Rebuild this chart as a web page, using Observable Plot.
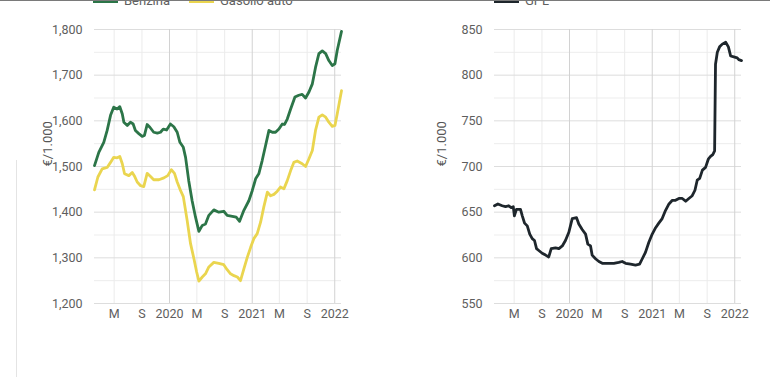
<!DOCTYPE html>
<html>
<head>
<meta charset="utf-8">
<script src="https://cdn.jsdelivr.net/npm/d3@7"></script>
<script src="https://cdn.jsdelivr.net/npm/@observablehq/plot@0.6"></script>
<style>
  html, body { margin: 0; padding: 0; background: #fff; width: 770px; height: 384px; overflow: hidden; }
  body { position: relative; font-family: Roboto, "Noto Sans", sans-serif; }
  .topline { position: absolute; left: 0; top: 0; width: 770px; height: 1px; background: #7a7a7a; z-index: 5; }
  .sideline { position: absolute; left: 16px; top: 160px; width: 1px; height: 217px; background: #e4e4e4; }
  .chart { position: absolute; top: 0; }
  .legend { position: absolute; top: -6px; font-size: 13px; color: #5f5f5f; white-space: nowrap; line-height: 14px; }
  .legend span.item { position: absolute; top: 0; }
  .legend span.sw { position: absolute; top: -1px; width: 25px; height: 10px; }
</style>
</head>
<body>
<div class="topline"></div>
<div class="sideline"></div>
<div id="left" class="chart" style="left:0"></div>
<div id="right" class="chart" style="left:385px"></div>
<div class="legend" id="legendLeft" style="left:0"></div>
<div class="legend" id="legendRight" style="left:385px"></div>
<script>
// ---- Data ----
const benzinaDates = ["2019-02-03","2019-02-22","2019-03-16","2019-03-31","2019-04-15","2019-04-29","2019-05-14","2019-05-26","2019-06-06","2019-06-13","2019-06-28","2019-07-12","2019-07-24","2019-08-03","2019-08-18","2019-09-02","2019-09-12","2019-09-24","2019-10-06","2019-10-23","2019-11-08","2019-11-22","2019-12-04","2019-12-19","2020-01-05","2020-01-20","2020-02-04","2020-02-16","2020-03-02","2020-03-12","2020-03-26","2020-04-10","2020-04-25","2020-05-10","2020-05-25","2020-06-08","2020-06-23","2020-07-15","2020-08-06","2020-08-28","2020-09-12","2020-10-05","2020-10-22","2020-11-06","2020-11-25","2020-12-17","2021-01-01","2021-01-16","2021-01-30","2021-02-14","2021-03-01","2021-03-16","2021-03-31","2021-04-14","2021-04-29","2021-05-14","2021-05-24","2021-06-05","2021-06-20","2021-07-09","2021-07-26","2021-08-10","2021-08-25","2021-09-09","2021-09-24","2021-10-08","2021-10-23","2021-11-07","2021-11-22","2021-12-06","2021-12-21","2022-01-02","2022-01-12","2022-01-31"];
const benzinaValues = [1502,1531,1553,1579,1612,1630,1626,1631,1615,1597,1590,1597,1593,1579,1572,1566,1568,1592,1586,1575,1573,1575,1582,1580,1593,1587,1575,1553,1542,1520,1469,1425,1389,1358,1371,1374,1393,1405,1400,1402,1393,1391,1389,1380,1404,1425,1447,1473,1484,1513,1546,1579,1575,1575,1582,1593,1592,1604,1626,1652,1656,1658,1650,1663,1681,1717,1747,1753,1747,1732,1721,1725,1754,1796];

const gasolioDates = ["2019-02-03","2019-02-18","2019-03-09","2019-03-31","2019-04-15","2019-04-29","2019-05-14","2019-05-26","2019-06-06","2019-06-16","2019-07-05","2019-07-20","2019-07-31","2019-08-11","2019-08-26","2019-09-09","2019-09-24","2019-10-09","2019-10-23","2019-11-15","2019-12-07","2019-12-24","2020-01-09","2020-01-23","2020-02-04","2020-02-19","2020-03-02","2020-03-19","2020-04-03","2020-04-18","2020-04-30","2020-05-10","2020-05-25","2020-06-08","2020-06-23","2020-07-15","2020-08-06","2020-08-28","2020-09-12","2020-09-27","2020-10-12","2020-10-27","2020-11-10","2020-11-25","2020-12-10","2020-12-25","2021-01-08","2021-01-23","2021-02-07","2021-02-21","2021-03-09","2021-03-23","2021-04-07","2021-04-22","2021-05-06","2021-05-21","2021-06-05","2021-06-20","2021-07-04","2021-07-19","2021-08-10","2021-08-25","2021-09-09","2021-09-24","2021-10-08","2021-10-23","2021-11-07","2021-11-22","2021-12-06","2021-12-21","2022-01-02","2022-01-12","2022-01-31"];
const gasolioValues = [1449,1477,1495,1498,1509,1520,1519,1522,1506,1484,1480,1487,1478,1466,1458,1456,1485,1478,1471,1471,1475,1480,1493,1485,1466,1447,1434,1382,1331,1298,1269,1249,1258,1265,1280,1290,1288,1285,1274,1265,1261,1258,1250,1276,1301,1323,1342,1353,1378,1411,1444,1436,1439,1446,1455,1451,1469,1491,1509,1512,1506,1500,1517,1535,1579,1608,1613,1608,1597,1588,1590,1615,1666];

const gplDates = ["2019-02-03","2019-02-18","2019-03-09","2019-03-24","2019-04-07","2019-04-18","2019-04-27","2019-05-02","2019-05-11","2019-05-29","2019-06-06","2019-06-16","2019-06-28","2019-07-09","2019-07-20","2019-07-30","2019-08-08","2019-08-18","2019-09-02","2019-09-17","2019-10-01","2019-10-12","2019-10-31","2019-11-15","2019-11-30","2019-12-14","2019-12-29","2020-01-13","2020-02-01","2020-02-11","2020-02-26","2020-03-12","2020-03-22","2020-04-03","2020-04-10","2020-04-25","2020-05-10","2020-05-25","2020-06-16","2020-07-15","2020-08-06","2020-08-21","2020-09-05","2020-09-27","2020-10-19","2020-11-06","2020-11-18","2020-12-02","2020-12-17","2021-01-01","2021-01-16","2021-01-30","2021-02-14","2021-03-01","2021-03-16","2021-03-31","2021-04-14","2021-04-29","2021-05-14","2021-05-29","2021-06-12","2021-06-27","2021-07-09","2021-07-19","2021-07-30","2021-08-11","2021-08-25","2021-09-06","2021-09-16","2021-09-26","2021-10-04","2021-10-08","2021-10-16","2021-10-26","2021-11-07","2021-11-22","2021-12-04","2021-12-14","2021-12-28","2022-01-12","2022-01-19","2022-01-31"];
const gplValues = [657,659,657,656,657,655,656,646,653,653,646,638,635,626,621,619,610,608,605,603,601,610,611,610,613,619,628,643,644,637,631,626,615,613,603,599,596,594,594,594,595,596,594,593,592,593,599,606,617,626,633,638,643,652,659,663,663,665,665,662,665,668,674,685,687,696,699,708,711,713,717,812,825,831,834,836,831,821,820,819,817,816];

const xTickDates = ["2019-05-01","2019-09-01","2020-01-01","2020-05-01","2020-09-01","2021-01-01","2021-05-01","2021-09-01","2022-01-01"];
const xTickLabels = ["M","S","2020","M","S","2021","M","S","2022"];

const leftYTicks = [1200,1300,1400,1500,1600,1700,1800];
const leftYMinor = [1250,1350,1450,1550,1650,1750];
const rightYTicks = [550,600,650,700,750,800,850];
const rightYMinor = [575,625,675,725,775,825];

const seriesNames = ["Benzina","Gasolio auto","GPL"];
const yTitle = "€/1.000";

// ---- Build ----
const parse = d3.utcParse("%Y-%m-%d");
const toRows = (dates, values) => dates.map((d, i) => ({date: parse(d), value: values[i]}));
const benzina = toRows(benzinaDates, benzinaValues);
const gasolio = toRows(gasolioDates, gasolioValues);
const gpl = toRows(gplDates, gplValues);
const ticks = xTickDates.map((d, i) => ({date: parse(d), label: xTickLabels[i]}));
const majorX = ticks.filter(t => t.date.getUTCMonth() === 0);
const minorX = ticks.filter(t => t.date.getUTCMonth() !== 0);
const xDomain = d3.extent(benzina.concat(gasolio, gpl), d => d.date);

const colors = {"Benzina": "#2c7548", "Gasolio auto": "#ead54f", "GPL": "#1e262c"};
const fmt = d3.format(",");

function chart({series, yDomain, yTicks, yMinor, marginLeft, marginRight, titleDx}) {
  return Plot.plot({
    width: 385,
    height: 384,
    marginLeft, marginRight,
    marginTop: 29,
    marginBottom: 81,
    style: {fontFamily: "Roboto, sans-serif", fontSize: "12.5px", color: "#5e5e5e", background: "transparent", overflow: "visible"},
    x: {type: "utc", domain: xDomain, axis: null},
    y: {domain: yDomain, axis: null},
    marks: [
      Plot.ruleY(yMinor, {stroke: "#ededed", strokeWidth: 1}),
      Plot.ruleX(minorX, {x: "date", stroke: "#ebebeb", strokeWidth: 1}),
      Plot.ruleY(yTicks, {stroke: "#dddddd", strokeWidth: 1}),
      Plot.ruleX(majorX, {x: "date", stroke: "#d2d2d2", strokeWidth: 1}),
      ...series.map(s => Plot.line(s.data, {x: "date", y: "value", stroke: colors[s.name], strokeWidth: 2.8, strokeLinejoin: "round", strokeLinecap: "round"})),
      Plot.text(yTicks, {y: d => d, frameAnchor: "left", textAnchor: "end", dx: -12, text: d => fmt(d)}),
      Plot.text(ticks, {x: "date", frameAnchor: "bottom", dy: 14, text: "label"}),
      Plot.text([yTitle], {frameAnchor: "left", dx: titleDx, rotate: -90, text: d => d, fontSize: 13, fill: "#555"})
    ]
  });
}

document.getElementById("left").appendChild(chart({
  series: [{name: "Benzina", data: benzina}, {name: "Gasolio auto", data: gasolio}],
  yDomain: [1200, 1800], yTicks: leftYTicks, yMinor: leftYMinor,
  marginLeft: 94, marginRight: 44, titleDx: -47
}));
document.getElementById("right").appendChild(chart({
  series: [{name: "GPL", data: gpl}],
  yDomain: [550, 850], yTicks: rightYTicks, yMinor: rightYMinor,
  marginLeft: 109, marginRight: 29, titleDx: -53
}));

function legend(el, items) {
  items.forEach(it => {
    const sw = document.createElement("span");
    sw.className = "sw";
    sw.style.left = it.sx + "px";
    sw.style.background = colors[it.name];
    el.appendChild(sw);
    const t = document.createElement("span");
    t.className = "item";
    t.style.left = it.tx + "px";
    t.textContent = it.name;
    el.appendChild(t);
  });
}
legend(document.getElementById("legendLeft"), [
  {name: seriesNames[0], sx: 93, tx: 124},
  {name: seriesNames[1], sx: 189, tx: 220}
]);
legend(document.getElementById("legendRight"), [
  {name: seriesNames[2], sx: 109, tx: 140}
]);
</script>
</body>
</html>
